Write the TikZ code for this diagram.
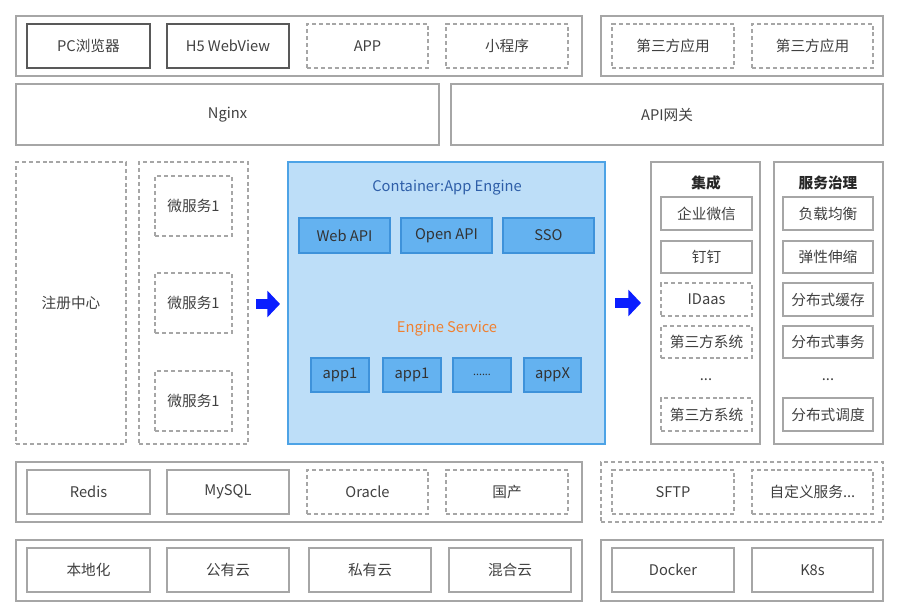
\documentclass[tikz,border=0pt]{standalone}
\usepackage{fontspec}
\setmainfont{Noto Sans CJK SC}
\usetikzlibrary{arrows.meta}
\definecolor{lgray}{HTML}{A6A6A6}
\definecolor{dgray}{HTML}{595959}
\definecolor{tgray}{HTML}{404040}
\definecolor{cfill}{HTML}{BDDEF8}
\definecolor{cline}{HTML}{4DA3E6}
\definecolor{bfill}{HTML}{64B2F0}
\definecolor{bline}{HTML}{3E92DA}
\definecolor{tblue}{HTML}{2E5EA8}
\definecolor{torange}{HTML}{F08030}
\definecolor{arrblue}{HTML}{0A1EFF}
\newcommand\mybox[7]{\node[#1, minimum width={(#5-#3)*0.75pt}, minimum height={(#6-#4)*0.75pt}] (#2) at ({(#3+#5)/2},{(#4+#6)/2}) {#7};}
\begin{document}
\begin{tikzpicture}[x=0.75pt,y=-0.75pt,
  every node/.style={inner sep=0pt, outer sep=0pt, font=\fontsize{11pt}{13pt}\selectfont, text=tgray},
  outerbox/.style={draw=lgray, line width=0.9pt, rectangle},
  outerdash/.style={draw=lgray, line width=0.9pt, dash pattern=on 3pt off 2.2pt, rectangle},
  solidbox/.style={draw=lgray, line width=0.9pt, rectangle},
  darkbox/.style={draw=dgray, line width=1.1pt, rectangle},
  dashbox/.style={draw=lgray, line width=0.9pt, dash pattern=on 3pt off 2.2pt, rectangle},
  centerbox/.style={draw=cline, fill=cfill, line width=1pt, rectangle},
  bluebox/.style={draw=bline, fill=bfill, line width=0.9pt, rectangle, text=black!80},
  bigarrow/.style={draw=arrblue, line width=7.5pt, -{Triangle[length=9.5pt,width=19.5pt, fill=arrblue]}}
]
\useasboundingbox (0,0) rectangle (900,616);
% Row 1
\mybox{outerbox}{r1l}{16}{16}{582}{76}{}
\mybox{darkbox}{pc}{27}{24}{150}{68}{PC浏览器}
\mybox{darkbox}{h5}{167}{24}{289}{68}{H5 WebView}
\mybox{dashbox}{app}{307}{24}{428}{68}{APP}
\mybox{dashbox}{mini}{446}{24}{568}{68}{小程序}
\mybox{outerbox}{r1r}{601}{16}{883}{76}{}
\mybox{dashbox}{tp1}{612}{24}{734}{68}{第三方应用}
\mybox{dashbox}{tp2}{752}{24}{873}{68}{第三方应用}
% Row 2
\mybox{outerbox}{nginx}{16}{84}{439}{145}{Nginx}
\mybox{outerbox}{apigw}{451}{84}{883}{145}{API网关}
% Middle left
\mybox{dashbox}{reg}{16}{162}{126}{444}{注册中心}
\mybox{dashbox}{ms}{139}{162}{248}{444}{}
\mybox{dashbox}{ms1}{155}{176}{232}{236}{微服务1}
\mybox{dashbox}{ms2}{155}{273}{232}{333}{微服务1}
\mybox{dashbox}{ms3}{155}{371}{232}{431}{微服务1}
% Center
\mybox{centerbox}{ce}{288}{162}{605}{444}{}
\node[text=tblue] (cetitle) at (447,188) {Container:App Engine};
\mybox{bluebox}{webapi}{299}{218}{390}{253}{Web API}
\mybox{bluebox}{openapi}{401}{218}{492}{253}{Open API}
\mybox{bluebox}{sso}{503}{218}{594}{253}{SSO}
\node[text=torange] (estitle) at (447,329) {Engine Service};
\mybox{bluebox}{a1}{311}{358}{369}{392}{app1}
\mybox{bluebox}{a2}{383}{358}{441}{392}{app1}
\mybox{bluebox}{a3}{453}{358}{511}{392}{\fontsize{8pt}{9pt}\selectfont ......}
\mybox{bluebox}{a4}{524}{358}{581}{392}{appX}
% Integration column
\mybox{outerbox}{integ}{651}{162}{760}{444}{}
\node[font=\fontsize{11pt}{13pt}\selectfont\bfseries, text=black!85] (integt) at (706,183) {集成};
\mybox{solidbox}{wx}{661}{197}{752}{230}{企业微信}
\mybox{solidbox}{dd}{661}{241}{752}{273}{钉钉}
\mybox{dashbox}{idaas}{661}{283}{752}{316}{IDaas}
\mybox{dashbox}{tps1}{661}{326}{752}{358}{第三方系统}
\node (idots) at (706,380) {...};
\mybox{dashbox}{tps2}{661}{398}{752}{431}{第三方系统}
% Governance column
\mybox{outerbox}{gov}{774}{162}{883}{444}{}
\node[font=\fontsize{11pt}{13pt}\selectfont\bfseries, text=black!85] (govt) at (828,183) {服务治理};
\mybox{solidbox}{lb}{783}{197}{873}{230}{负载均衡}
\mybox{solidbox}{es}{783}{241}{873}{273}{弹性伸缩}
\mybox{solidbox}{dc}{783}{283}{873}{316}{分布式缓存}
\mybox{solidbox}{dt}{783}{326}{873}{358}{分布式事务}
\node (gdots) at (828,380) {...};
\mybox{solidbox}{ds}{783}{398}{873}{431}{分布式调度}
% Arrows
\draw[bigarrow, shorten <=6pt, shorten >=6pt] (ms.east |- 0,304) -- (ce.west |- 0,304);
\draw[bigarrow, shorten <=7.5pt, shorten >=7.5pt] (ce.east |- 0,303) -- (integ.west |- 0,303);
% Row DB
\mybox{outerbox}{dbrow}{16}{462}{582}{522}{}
\mybox{solidbox}{redis}{27}{470}{150}{514}{Redis}
\mybox{solidbox}{mysql}{167}{470}{289}{514}{MySQL}
\mybox{dashbox}{oracle}{307}{470}{428}{514}{Oracle}
\mybox{dashbox}{gc}{446}{470}{568}{514}{国产}
\mybox{outerdash}{svcrow}{601}{462}{883}{522}{}
\mybox{dashbox}{sftp}{612}{470}{734}{514}{SFTP}
\mybox{dashbox}{custom}{752}{470}{873}{514}{自定义服务...}
% Row deploy
\mybox{outerbox}{deprow}{16}{540}{582}{601}{}
\mybox{solidbox}{local}{27}{548}{150}{592}{本地化}
\mybox{solidbox}{pub}{167}{548}{289}{592}{公有云}
\mybox{solidbox}{priv}{309}{548}{431}{592}{私有云}
\mybox{solidbox}{hyb}{449}{548}{571}{592}{混合云}
\mybox{outerbox}{ctrow}{601}{540}{883}{601}{}
\mybox{solidbox}{docker}{612}{548}{734}{592}{Docker}
\mybox{solidbox}{k8s}{752}{548}{873}{592}{K8s}
\end{tikzpicture}
\end{document}
